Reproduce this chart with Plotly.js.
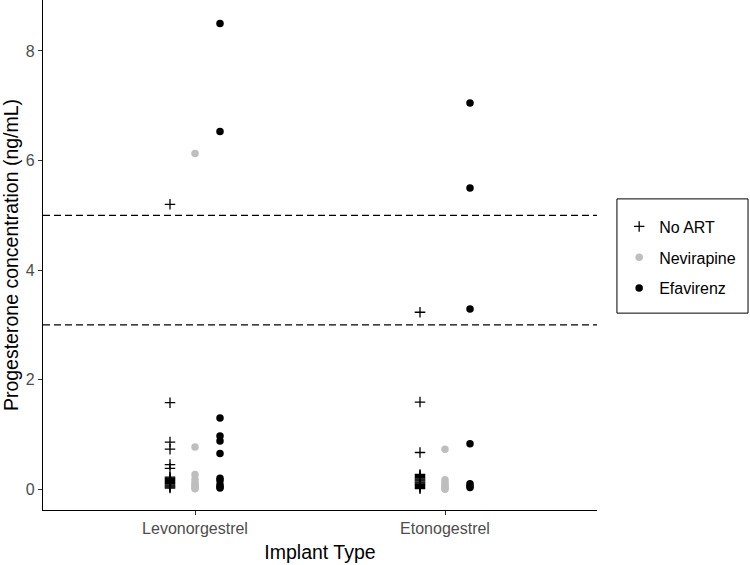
<!DOCTYPE html>
<html>
<head>
<meta charset="utf-8">
<script src="https://cdn.plot.ly/plotly-3.0.1.min.js"></script>
<style>html,body{margin:0;padding:0;background:#fff;}</style>
</head>
<body>
<div id="chart" style="width:750px;height:565px;"></div>
<script>
// Categories
const implants = ["Levonorgestrel", "Etonogestrel"];
const groupNames = ["No ART", "Nevirapine", "Efavirenz"];

// Levonorgestrel values by ART group
const levoNoART = [5.2, 1.58, 0.86, 0.73, 0.45, 0.38, 0.22, 0.2, 0.18, 0.16, 0.14, 0.12, 0.1, 0.08, 0.06, 0.04, 0.02];
const levoNevirapine = [6.13, 0.77, 0.27, 0.18, 0.12, 0.08, 0.05, 0.03, 0.01];
const levoEfavirenz = [8.5, 6.53, 1.3, 0.97, 0.88, 0.65, 0.2, 0.16, 0.08, 0.04, 0.02];

// Etonogestrel values by ART group
const etoNoART = [3.23, 1.59, 0.67, 0.27, 0.25, 0.23, 0.21, 0.19, 0.17, 0.15, 0.13, 0.11, 0.09, 0.07, 0.05, 0.03, 0.01];
const etoNevirapine = [0.73, 0.17, 0.12, 0.08, 0.05, 0.02, 0.0];
const etoEfavirenz = [7.05, 5.5, 3.29, 0.83, 0.1, 0.06, 0.03];

// Reference thresholds
const thresholds = [5, 3];

function xs(n, cat) { return Array(n).fill(cat); }

const traces = [
  {
    name: groupNames[0], legendgroup: "g0",
    x: xs(levoNoART.length, implants[0]).concat(xs(etoNoART.length, implants[1])),
    y: levoNoART.concat(etoNoART),
    type: "scatter", mode: "markers",
    marker: {symbol: "cross-thin-open", size: 7.5, color: "#000000", line: {color: "#000000", width: 1.3}}
  },
  {
    name: groupNames[1], legendgroup: "g1",
    x: xs(levoNevirapine.length, implants[0]).concat(xs(etoNevirapine.length, implants[1])),
    y: levoNevirapine.concat(etoNevirapine),
    type: "scatter", mode: "markers",
    marker: {symbol: "circle", size: 7.5, color: "#BEBEBE"}
  },
  {
    name: groupNames[2], legendgroup: "g2",
    x: xs(levoEfavirenz.length, implants[0]).concat(xs(etoEfavirenz.length, implants[1])),
    y: levoEfavirenz.concat(etoEfavirenz),
    type: "scatter", mode: "markers",
    marker: {symbol: "circle", size: 7.5, color: "#000000"}
  }
];

const shapes = thresholds.map(v => ({
  type: "line", xref: "paper", x0: 0, x1: 1, yref: "y", y0: v, y1: v,
  line: {color: "#000000", width: 1.2, dash: "7px,4px"}
}));
// legend frame
shapes.push({
  type: "rect", xref: "paper", yref: "paper",
  x0: 1.036, x1: 1.2726, y0: 0.386, y1: 0.610,
  line: {color: "#000000", width: 1}, fillcolor: "rgba(0,0,0,0)"
});

const layout = {
  width: 750, height: 565,
  margin: {l: 43, r: 153, t: 0, b: 55},
  paper_bgcolor: "#ffffff", plot_bgcolor: "#ffffff",
  font: {family: "Liberation Sans, Arial, sans-serif", color: "#000000"},
  scattermode: "group", scattergap: 0.7,
  showlegend: true,
  xaxis: {
    type: "category", categoryorder: "array", categoryarray: implants,
    range: [-0.608, 1.608],
    showline: true, linecolor: "#000000", linewidth: 1.2,
    showgrid: false, zeroline: false,
    ticks: "outside", ticklen: 4, tickcolor: "#333333",
    tickfont: {size: 16, color: "#4D4D4D"},
    title: {text: "Implant Type", font: {size: 19.5, color: "#000000"}, standoff: 9}
  },
  yaxis: {
    range: [-0.38, 8.93],
    tickvals: [0, 2, 4, 6, 8],
    showline: true, linecolor: "#000000", linewidth: 1.2,
    showgrid: false, zeroline: false,
    ticks: "outside", ticklen: 4, tickcolor: "#333333",
    tickfont: {size: 16, color: "#4D4D4D"},
    title: {text: "Progesterone concentration (ng/mL)", font: {size: 19.5, color: "#000000"}, standoff: 3}
  },
  legend: {
    x: 1.04, xanchor: "left", y: 0.495, yanchor: "middle",
    borderwidth: 0,
    font: {size: 16, color: "#000000"},
    tracegroupgap: 7,
    bgcolor: "rgba(0,0,0,0)"
  },
  shapes: shapes
};

Plotly.newPlot("chart", traces, layout, {displayModeBar: false, staticPlot: true});
</script>
</body>
</html>
